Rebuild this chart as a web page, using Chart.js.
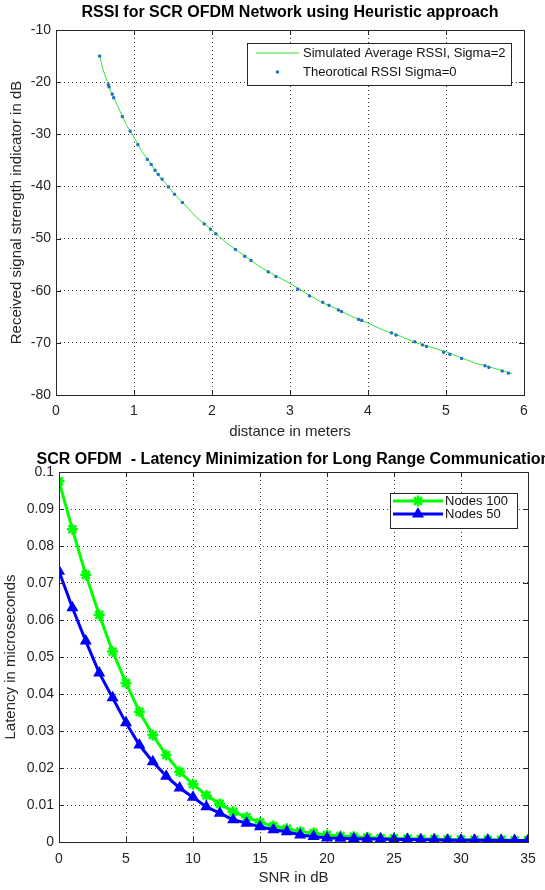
<!DOCTYPE html>
<html>
<head>
<meta charset="utf-8">
<script src="https://cdn.jsdelivr.net/npm/chart.js@4.4.0/dist/chart.umd.min.js"></script>
<style>
  html, body { margin: 0; padding: 0; background: #fff; }
  #wrap { position: relative; width: 545px; height: 890px; }
  .panel { position: absolute; left: 0; width: 545px; height: 445px; }
</style>
</head>
<body>
<div id="wrap">
  <div class="panel" style="top:0"><canvas id="rssiChart" width="545" height="445"></canvas></div>
  <div class="panel" style="top:445px"><canvas id="latencyChart" width="545" height="445"></canvas></div>
</div>
<script>
// ---- datos grafico 1 (RSSI) ----
var distSim = [0.56, 0.6, 0.7, 0.8, 0.9, 1.0, 1.1, 1.2, 1.3, 1.4, 1.5, 1.6, 1.8, 2.0, 2.2, 2.4, 2.6, 2.8,
  3.0, 3.2, 3.4, 3.6, 3.8, 4.0, 4.2, 4.4, 4.6, 4.8, 5.0, 5.2, 5.4, 5.6, 5.85];
var rssiSim = [-14.8, -17.5, -21.7, -24.9, -28.1, -30.6, -33.3, -35.3, -37.6, -39.3, -41.2, -42.7, -45.9, -48.4,
  -51.0, -53.1, -55.3, -57.0, -58.6, -60.4, -62.2, -63.5, -65.0, -66.2, -67.6, -68.6, -69.9, -70.8, -71.7,
  -72.9, -74.0, -74.8, -75.9];
var distTheo = [0.56, 0.67, 0.68, 0.72, 0.74, 0.85, 0.95, 1.05, 1.17, 1.22, 1.27, 1.31, 1.36, 1.44, 1.52, 1.62,
  1.9, 1.98, 2.05, 2.3, 2.42, 2.5, 2.72, 2.82, 3.1, 3.25, 3.42, 3.5, 3.62, 3.66, 3.88, 3.92, 4.3, 4.36, 4.6,
  4.7, 4.75, 4.97, 5.05, 5.2, 5.5, 5.55, 5.72, 5.8];
var rssiTheo = [-15.0, -20.5, -20.9, -22.3, -23.0, -26.6, -29.4, -32.0, -34.8, -35.8, -36.9, -37.7, -38.6, -40.1,
  -41.5, -43.1, -47.2, -48.2, -49.1, -52.1, -53.4, -54.2, -56.4, -57.3, -59.7, -61.0, -62.2, -62.8, -63.7,
  -64.0, -65.5, -65.7, -68.1, -68.5, -69.8, -70.4, -70.7, -71.8, -72.2, -73.0, -74.4, -74.7, -75.4, -75.8];
var rssiLabels = ['Simulated Average RSSI, Sigma=2', 'Theorotical RSSI Sigma=0'];

// ---- datos grafico 2 (latencia) ----
var snrDb = [0, 1, 2, 3, 4, 5, 6, 7, 8, 9, 10, 11, 12, 13, 14, 15, 16, 17, 18, 19, 20,
  21, 22, 23, 24, 25, 26, 27, 28, 29, 30, 31, 32, 33, 34, 35];
var latencyNodes100 = [0.0975, 0.0845, 0.0722, 0.0614, 0.0515, 0.0430, 0.0352, 0.0289, 0.0235, 0.0190,
  0.0156, 0.0126, 0.0103, 0.0082, 0.0067, 0.0053, 0.0043, 0.0036, 0.0028, 0.0024, 0.0019,
  0.0016, 0.0014, 0.0012, 0.0011, 0.0010, 0.0009, 0.0008, 0.0008, 0.0007, 0.0007, 0.0006, 0.0006,
  0.0006, 0.0005, 0.0005];
var latencyNodes50 = [0.0732, 0.0633, 0.0543, 0.0457, 0.0390, 0.0322, 0.0262, 0.0217, 0.0178, 0.0146,
  0.0121, 0.0095, 0.0078, 0.0060, 0.0051, 0.0041, 0.0033, 0.0028, 0.0019, 0.0015, 0.0011,
  0.0010, 0.0009, 0.0008, 0.0008, 0.0007, 0.0007, 0.0006, 0.0006, 0.0005, 0.0005, 0.0005, 0.0005,
  0.0004, 0.0004, 0.0004];
var latencyLabels = ['Nodes 100', 'Nodes 50'];

var FONT = '"Liberation Sans", Arial, sans-serif';
var TXT = '#262626';

function puntos(xs, ys) {
  return xs.map(function (x, i) { return { x: x, y: ys[i] }; });
}

// Plugin: caja tipo MATLAB, marcas hacia dentro, titulo y leyenda con borde
var estiloMatlab = {
  id: 'estiloMatlab',
  afterDraw: function (chart, args, opts) {
    var ctx = chart.ctx;
    var a = chart.chartArea;
    ctx.save();
    // marcas
    ctx.strokeStyle = TXT;
    ctx.lineWidth = 1;
    ctx.beginPath();
    var sx = chart.scales.x, sy = chart.scales.y;
    sx.ticks.forEach(function (t) {
      var p = Math.round(sx.getPixelForValue(t.value)) + 0.5;
      ctx.moveTo(p, a.bottom); ctx.lineTo(p, a.bottom - 5);
      ctx.moveTo(p, a.top); ctx.lineTo(p, a.top + 5);
    });
    sy.ticks.forEach(function (t) {
      var p = Math.round(sy.getPixelForValue(t.value)) + 0.5;
      ctx.moveTo(a.left, p); ctx.lineTo(a.left + 5, p);
      ctx.moveTo(a.right, p); ctx.lineTo(a.right - 5, p);
    });
    ctx.stroke();
    ctx.strokeRect(Math.round(a.left) + 0.5, Math.round(a.top) + 0.5,
      Math.round(a.right - a.left), Math.round(a.bottom - a.top));

    // titulo
    ctx.fillStyle = '#000';
    ctx.font = 'bold 16px ' + FONT;
    ctx.textAlign = 'center';
    ctx.textBaseline = 'middle';
    ctx.fillText(opts.title, (a.left + a.right) / 2, opts.titleY);

    // leyenda
    var L = opts.legend;
    ctx.fillStyle = '#fff';
    ctx.fillRect(L.x, L.y, L.w, L.h);
    ctx.strokeStyle = TXT;
    ctx.lineWidth = 1;
    ctx.strokeRect(L.x + 0.5, L.y + 0.5, L.w, L.h);
    ctx.font = '13px ' + FONT;
    ctx.textAlign = 'left';
    chart.data.datasets.forEach(function (ds, i) {
      var y = L.rows[i];
      if (ds.showLine !== false) {
        ctx.strokeStyle = ds.borderColor;
        ctx.lineWidth = ds.borderWidth;
        ctx.beginPath();
        ctx.moveTo(L.x1, y); ctx.lineTo(L.x2, y);
        ctx.stroke();
      }
      if (ds.pointRadius > 0) {
        ctx.strokeStyle = ds.pointBorderColor || ds.borderColor;
        ctx.fillStyle = ds.pointBackgroundColor || ds.backgroundColor;
        ctx.lineWidth = ds.pointBorderWidth || 1;
        Chart.helpers.drawPoint(ctx, {
          pointStyle: ds.pointStyle, radius: ds.pointRadius, rotation: 0,
          borderWidth: ds.pointBorderWidth || 1
        }, (L.x1 + L.x2) / 2, y);
      }
      ctx.fillStyle = '#111';
      ctx.fillText(ds.label, L.tx, y);
    });
    ctx.restore();
  }
};

function ejes(opc) {
  return {
    x: {
      type: 'linear', min: opc.xmin, max: opc.xmax,
      afterFit: function (s) { s.height = opc.xh; },
      ticks: { stepSize: opc.xstep, color: TXT, font: { family: FONT, size: 14 }, padding: opc.xpad, maxRotation: 0 },
      grid: { color: 'rgba(0,0,0,0.75)', drawTicks: false, lineWidth: 1 },
      border: { display: false, dash: [1, 3] },
      title: { display: true, text: opc.xtitle, color: TXT, font: { family: FONT, size: 15 }, padding: { top: 0, bottom: opc.xtpad } }
    },
    y: {
      type: 'linear', min: opc.ymin, max: opc.ymax,
      afterFit: function (s) { s.width = opc.yw; },
      ticks: { stepSize: opc.ystep, color: TXT, font: { family: FONT, size: 14 }, padding: 5, callback: opc.yfmt },
      grid: { color: 'rgba(0,0,0,0.75)', drawTicks: false, lineWidth: 1 },
      border: { display: false, dash: [1, 3] },
      title: { display: true, text: opc.ytitle, color: TXT, font: { family: FONT, size: 15 }, padding: { top: opc.ytpad, bottom: 0 } }
    }
  };
}

// Grafico 1
new Chart(document.getElementById('rssiChart').getContext('2d'), {
  type: 'scatter',
  data: {
    datasets: [{
      label: rssiLabels[0],
      data: puntos(distSim, rssiSim),
      showLine: true,
      borderColor: '#33e633',
      backgroundColor: '#33e633',
      borderWidth: 1,
      pointRadius: 0,
      order: 1
    }, {
      label: rssiLabels[1],
      data: puntos(distTheo, rssiTheo),
      showLine: false,
      borderColor: '#1f6fc5',
      backgroundColor: '#1f6fc5',
      pointBackgroundColor: '#1f6fc5',
      pointBorderColor: '#1f6fc5',
      pointStyle: 'rect',
      pointRadius: 1.5,
      pointBorderWidth: 1,
      order: 0
    }]
  },
  options: {
    responsive: false,
    animation: false,
    layout: { padding: { left: 0, right: 21, top: 30, bottom: 0 } },
    scales: ejes({
      xmin: 0, xmax: 6, xstep: 1, xh: 50, xpad: 8, xtitle: 'distance in meters', xtpad: 4,
      ymin: -80, ymax: -10, ystep: 10, yw: 56, ytitle: 'Received signal strength indicator in dB', ytpad: 8
    }),
    plugins: {
      legend: { display: false },
      tooltip: { enabled: false },
      estiloMatlab: {
        title: 'RSSI for SCR OFDM Network using Heuristic approach',
        titleY: 13,
        legend: { x: 247, y: 43, w: 264, h: 42, rows: [53, 72], x1: 256, x2: 299, tx: 303 }
      }
    }
  },
  plugins: [estiloMatlab]
});

// Grafico 2
new Chart(document.getElementById('latencyChart').getContext('2d'), {
  type: 'scatter',
  data: {
    datasets: [{
      label: latencyLabels[0],
      data: puntos(snrDb, latencyNodes100),
      showLine: true,
      borderColor: '#00ff00',
      backgroundColor: '#00ff00',
      pointBorderColor: '#00ff00',
      pointBackgroundColor: '#00ff00',
      borderWidth: 3,
      pointStyle: 'star',
      pointRadius: 5.5,
      pointBorderWidth: 2.5,
      order: 1
    }, {
      label: latencyLabels[1],
      data: puntos(snrDb, latencyNodes50),
      showLine: true,
      borderColor: '#0000ff',
      backgroundColor: '#0000ff',
      pointBorderColor: '#0000ff',
      pointBackgroundColor: '#0000ff',
      borderWidth: 3,
      pointStyle: 'triangle',
      pointRadius: 5.5,
      pointBorderWidth: 1.5,
      order: 0
    }]
  },
  options: {
    responsive: false,
    animation: false,
    layout: { padding: { left: 0, right: 17, top: 27, bottom: 0 } },
    scales: ejes({
      xmin: 0, xmax: 35, xstep: 5, xh: 48, xpad: 9, xtitle: 'SNR in dB', xtpad: 3,
      ymin: 0, ymax: 0.1, ystep: 0.01, yw: 59, ytitle: 'Latency in microseconds', ytpad: 2,
      yfmt: function (v) { return String(+v.toFixed(2)); }
    }),
    plugins: {
      legend: { display: false },
      tooltip: { enabled: false },
      estiloMatlab: {
        title: 'SCR OFDM  - Latency Minimization for Long Range Communication',
        titleY: 15,
        legend: { x: 390, y: 48, w: 127, h: 35, rows: [56, 69], x1: 393, x2: 443, tx: 445 }
      }
    }
  },
  plugins: [estiloMatlab]
});
</script>
</body>
</html>
